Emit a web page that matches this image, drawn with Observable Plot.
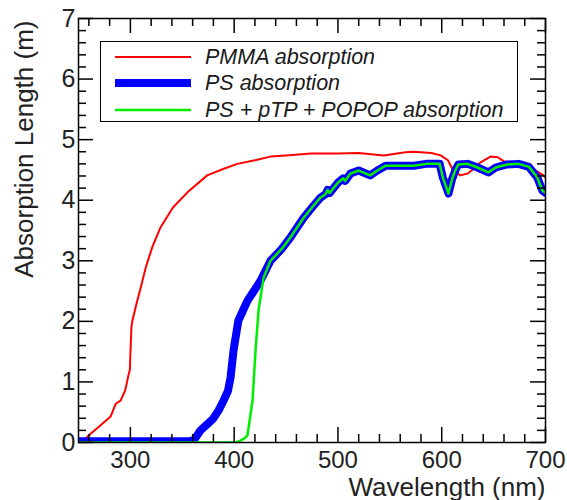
<!DOCTYPE html>
<html>
<head>
<meta charset="utf-8">
<script src="https://cdn.jsdelivr.net/npm/d3@7"></script>
<script src="https://cdn.jsdelivr.net/npm/@observablehq/plot@0.6"></script>
<style>
  body { margin: 0; background: #fff; }
  #wrap { position: relative; width: 567px; height: 500px; font-family: "Liberation Sans", Arial, Helvetica, sans-serif; }
  #legend { position: absolute; left: 100px; top: 41px; width: 416px; height: 79px; border: 1.5px solid #000; background: #fff; }
  .row { position: absolute; left: 0; height: 26px; display: flex; align-items: center; }
  .row svg { margin-left: 14px; }
  .row span { margin-left: 14px; font-style: italic; font-size: 21.5px; color: #1a1a1a; white-space: nowrap; }
</style>
</head>
<body>
<div id="wrap"></div>
<script>
// ---- data ----
const wavelengthPMMA = [250, 254, 257, 262, 271, 281, 286, 290.5, 295, 298, 299.5, 300.3, 301, 302, 306, 310, 315, 321, 329, 341, 355, 374, 390, 403, 420, 435, 450, 474, 500, 520, 544, 565, 573, 590, 599, 606, 611, 618, 625, 631, 637, 647, 654, 660, 669, 679, 688, 698, 700];
const absorptionPMMA = [0.02, 0.04, 0.07, 0.15, 0.28, 0.43, 0.64, 0.69, 0.86, 1.1, 1.2, 1.6, 1.9, 2.02, 2.3, 2.56, 2.9, 3.22, 3.55, 3.88, 4.13, 4.41, 4.52, 4.6, 4.66, 4.72, 4.74, 4.77, 4.77, 4.78, 4.74, 4.79, 4.8, 4.78, 4.74, 4.66, 4.49, 4.41, 4.44, 4.52, 4.62, 4.72, 4.71, 4.64, 4.62, 4.6, 4.52, 4.41, 4.38];

const wavelengthPS = [250, 300, 355, 360.8, 367.6, 374, 380, 385, 389.7, 394, 396.5, 399.4, 404, 412.8, 419, 425.4, 435, 446, 454, 467, 476, 483, 488, 490, 492, 500, 505, 507, 512, 520, 531, 538, 546, 560, 573, 585, 598, 601, 606.5, 610, 613, 616, 625, 634.5, 645, 652, 663, 674, 684, 692, 697, 700];
const absorptionPS = [0.02, 0.02, 0.02, 0.03, 0.2, 0.3, 0.4, 0.53, 0.69, 0.85, 1.07, 1.52, 2.01, 2.34, 2.5, 2.67, 3.0, 3.2, 3.38, 3.71, 3.9, 4.04, 4.1, 4.17, 4.12, 4.29, 4.36, 4.32, 4.44, 4.49, 4.41, 4.49, 4.57, 4.57, 4.57, 4.6, 4.6, 4.38, 4.11, 4.35, 4.49, 4.59, 4.6, 4.54, 4.46, 4.54, 4.59, 4.6, 4.55, 4.38, 4.16, 4.12];

const wavelengthDoped = [250, 300, 350, 401.3, 406, 410, 412.8, 417.7, 420.6, 423.5, 428.3, 435, 446, 454, 467, 476, 483, 488, 490, 492, 500, 505, 507, 512, 520, 531, 538, 546, 560, 573, 585, 598, 601, 606.5, 610, 613, 616, 625, 634.5, 645, 652, 663, 674, 684, 692, 697, 700];
const absorptionDoped = [0.0, 0.0, 0.0, 0.0, 0.03, 0.07, 0.12, 0.69, 1.52, 2.18, 2.72, 3.0, 3.2, 3.38, 3.71, 3.9, 4.04, 4.1, 4.17, 4.12, 4.29, 4.36, 4.32, 4.44, 4.49, 4.41, 4.49, 4.57, 4.57, 4.57, 4.6, 4.6, 4.38, 4.11, 4.35, 4.49, 4.59, 4.6, 4.54, 4.46, 4.54, 4.59, 4.6, 4.55, 4.38, 4.16, 4.12];

const xTickLabels = [300, 400, 500, 600, 700];
const xMajorTicks = [300, 400, 500, 600, 700];
const xMinorTicks = d3.range(260, 700, 20).filter(v => v % 100 !== 0);
const yTickLabels = [0, 1, 2, 3, 4, 5, 6, 7];
const yMinorTicks = d3.range(0.2, 7, 0.2).map(v => +v.toFixed(1)).filter(v => Math.abs(v - Math.round(v)) > 1e-6);

const seriesNames = ["PMMA absorption", "PS absorption", "PS + pTP + POPOP absorption"];
const seriesColors = ["#ff0000", "#0000ff", "#00ee00"];
const seriesWidths = [2, 8, 2.5];

const toRows = (xs, ys) => xs.map((x, i) => ({x, y: ys[i]}));
const pmma = toRows(wavelengthPMMA, absorptionPMMA);
const ps = toRows(wavelengthPS, absorptionPS);
const doped = toRows(wavelengthDoped, absorptionDoped);

const W = 567, H = 500, mL = 78, mR = 22, mT = 18, mB = 58;
const innerW = W - mL - mR, innerH = H - mT - mB;
const maj = 15, mnr = 8;

const chart = Plot.plot({
  width: W, height: H,
  marginLeft: mL, marginRight: mR, marginTop: mT, marginBottom: mB,
  x: {domain: [250, 700]},
  y: {domain: [0, 7]},
  style: {fontFamily: '"Liberation Sans", Arial, Helvetica, sans-serif', background: "#fff"},
  marks: [
    Plot.line(pmma, {x: "x", y: "y", stroke: seriesColors[0], strokeWidth: seriesWidths[0], clip: true}),
    Plot.line(ps, {x: "x", y: "y", stroke: seriesColors[1], strokeWidth: seriesWidths[1], clip: true}),
    Plot.line(doped, {x: "x", y: "y", stroke: seriesColors[2], strokeWidth: seriesWidths[2], clip: true}),
    // inward ticks on all four sides
    Plot.tickX(xMajorTicks, {x: d => d, insetTop: innerH - maj, stroke: "#000", strokeWidth: 1.5}),
    Plot.tickX(xMinorTicks, {x: d => d, insetTop: innerH - mnr, stroke: "#000", strokeWidth: 1.5}),
    Plot.tickX(xMajorTicks, {x: d => d, insetBottom: innerH - maj, stroke: "#000", strokeWidth: 1.5}),
    Plot.tickX(xMinorTicks, {x: d => d, insetBottom: innerH - mnr, stroke: "#000", strokeWidth: 1.5}),
    Plot.tickY(yTickLabels, {y: d => d, insetRight: innerW - maj, stroke: "#000", strokeWidth: 1.5}),
    Plot.tickY(yMinorTicks, {y: d => d, insetRight: innerW - mnr, stroke: "#000", strokeWidth: 1.5}),
    Plot.tickY(yTickLabels, {y: d => d, insetLeft: innerW - maj, stroke: "#000", strokeWidth: 1.5}),
    Plot.tickY(yMinorTicks, {y: d => d, insetLeft: innerW - mnr, stroke: "#000", strokeWidth: 1.5}),
    Plot.frame({stroke: "#000", strokeWidth: 1.5}),
    Plot.axisX({ticks: xTickLabels, tickFormat: d => String(d), tickSize: 0, tickPadding: 8, fontSize: 24, label: null, fill: "#222"}),
    Plot.axisY({ticks: yTickLabels, tickFormat: d => String(d), tickSize: 0, tickPadding: 3, fontSize: 25, label: null, fill: "#222"}),
    Plot.text(["Wavelength (nm)"], {frameAnchor: "bottom-right", textAnchor: "end", dy: 53, fontSize: 26, fill: "#222"}),
    Plot.text(["Absorption Length (m)"], {frameAnchor: "top-left", textAnchor: "end", rotate: -90, dx: -64, dy: 2, fontSize: 26, fill: "#222"})
  ]
});

const wrap = document.getElementById("wrap");
wrap.appendChild(chart);

const legend = document.createElement("div");
legend.id = "legend";
const rowTops = [2, 28, 55];
seriesNames.forEach((name, i) => {
  const row = document.createElement("div");
  row.className = "row";
  row.style.top = rowTops[i] + "px";
  row.innerHTML = `<svg width="76" height="12"><line x1="0" x2="76" y1="6" y2="6" stroke="${seriesColors[i]}" stroke-width="${seriesWidths[i]}"/></svg><span>${name}</span>`;
  legend.appendChild(row);
});
wrap.appendChild(legend);
</script>
</body>
</html>
